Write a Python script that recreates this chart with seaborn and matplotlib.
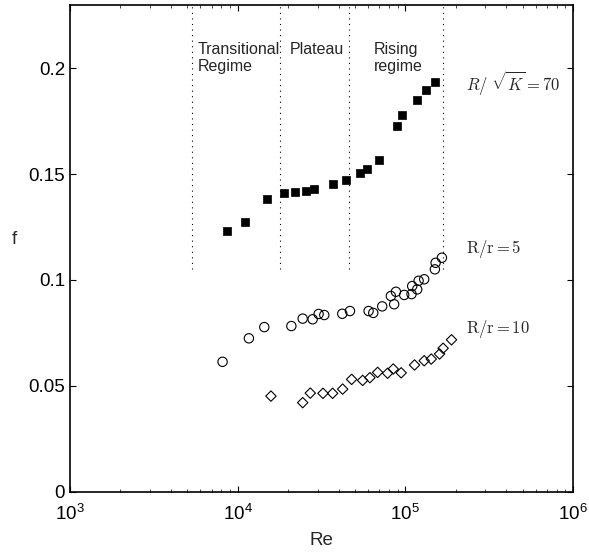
import numpy as np
import pandas as pd
import matplotlib
matplotlib.use('Agg')
import matplotlib.pyplot as plt
import seaborn as sns

# data
re_k70 = [8590, 11010, 14960, 18970, 22070, 25660, 28510, 37150, 44040,
          53860, 58730, 69620, 89150, 95900, 116800, 132700, 150800]
f_k70 = [0.1231, 0.1272, 0.1382, 0.1411, 0.1417, 0.1419, 0.1430, 0.1455, 0.1472,
         0.1504, 0.1526, 0.1565, 0.1729, 0.1781, 0.1849, 0.1896, 0.1934]

re_r5 = [8130, 11670, 14420, 20910, 24430, 28010, 30400, 32870, 42080, 46760,
         60400, 64400, 72800, 85800, 82000, 87900, 98500, 108900, 109900, 117700,
         120000, 129600, 150100, 151600, 165300]
f_r5 = [0.0613, 0.0724, 0.0777, 0.0782, 0.0817, 0.0814, 0.0839, 0.0834, 0.0840, 0.0853,
        0.0853, 0.0844, 0.0875, 0.0885, 0.0924, 0.0944, 0.0929, 0.0933, 0.0971, 0.0955,
        0.0996, 0.1003, 0.1050, 0.1081, 0.1105]

re_r10 = [15800, 24430, 27120, 32280, 36860, 42290, 47850, 55650, 61470, 68360,
          78400, 84700, 94500, 113500, 129600, 142800, 160000, 168000, 188600]
f_r10 = [0.0451, 0.0420, 0.0465, 0.0464, 0.0464, 0.0484, 0.0530, 0.0525, 0.0538, 0.0563,
         0.0559, 0.0579, 0.0561, 0.0598, 0.0618, 0.0626, 0.0650, 0.0677, 0.0717]

# regime borders
regime_re = [5320, 18000, 46100, 168000]
regime_names = ['Transitional\nRegime', 'Plateau', 'Rising\nregime']
regime_text_re = [5750, 20500, 65000]

series_names = [r'$R/\ \sqrt{K}=70$', r'$\mathrm{R/r}{=}\mathrm{5}$', r'$\mathrm{R/r}{=}\mathrm{10}$']
series_label_f = [0.193, 0.1145, 0.0768]

y_ticks = [0, 0.05, 0.1, 0.15, 0.2]
y_tick_labels = ['0', '0.05', '0.1', '0.15', '0.2']

sns.set_style('ticks')
plt.rcParams['font.family'] = ['Liberation Sans', 'DejaVu Sans']
plt.rcParams['mathtext.fontset'] = 'custom'
plt.rcParams['mathtext.rm'] = 'Liberation Sans'
plt.rcParams['mathtext.it'] = 'Liberation Sans:italic'
plt.rcParams['xtick.direction'] = 'in'
plt.rcParams['ytick.direction'] = 'in'

fig = plt.figure(figsize=(5.89, 5.53), dpi=100)
ax = fig.add_axes([0.1188, 0.1112, 0.854, 0.880])

sns.scatterplot(x=re_k70, y=f_k70, marker='s', color='black', edgecolor='black',
                s=30, linewidth=0.5, ax=ax)
sns.scatterplot(x=re_r5, y=f_r5, marker='o', facecolor='none', edgecolor='black',
                s=45, linewidth=0.8, ax=ax)
sns.scatterplot(x=re_r10, y=f_r10, marker='D', facecolor='none', edgecolor='black',
                s=28, linewidth=0.8, ax=ax)

ax.vlines(regime_re, 0.105, 0.23, colors='black', linestyles=(0, (1, 4)), linewidth=0.8)

for name, xr in zip(regime_names, regime_text_re):
    ax.text(xr, 0.2125, name, fontsize=11.5, va='top', ha='left', linespacing=1.2)

for name, yf in zip(series_names, series_label_f):
    ax.text(2.3e5, yf, name, fontsize=12, va='center', ha='left', math_fontfamily='cm')

ax.set_xscale('log')
ax.set_xlim(1e3, 1e6)
ax.set_ylim(0, 0.23)
ax.set_yticks(y_ticks)
ax.set_yticklabels(y_tick_labels)
ax.set_xlabel('Re', fontsize=13.5, labelpad=6)
ax.set_ylabel('f', fontsize=13.5, rotation=0, labelpad=10)
ax.tick_params(axis='both', which='major', labelsize=13.5, length=4, width=0.8,
               top=True, right=True, color='black', labelcolor='black')
ax.tick_params(axis='x', which='major', pad=9)
ax.tick_params(axis='x', which='minor', length=2.5, width=0.6, top=True, bottom=True)
for sp in ax.spines.values():
    sp.set_linewidth(1.2)
    sp.set_color('black')
    sp.set_visible(True)
ax.grid(False)

fig.savefig('out.png', dpi=100)
